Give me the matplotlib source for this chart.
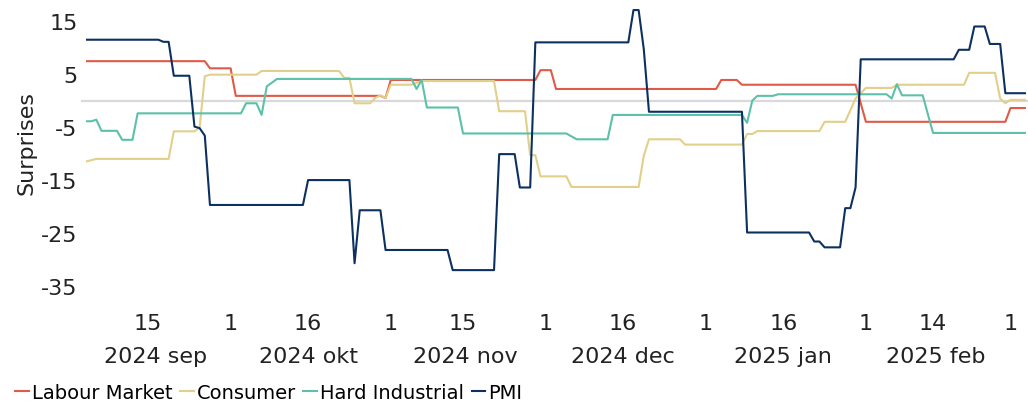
import matplotlib
matplotlib.use("Agg")
import matplotlib.pyplot as plt
import pandas as pd

plt.rcParams['font.family'] = ['DejaVu Sans']

# series vertices (date, surprise index)
labour_dates = ["2024-09-03", "2024-09-26", "2024-09-27", "2024-10-01", "2024-10-02", "2024-10-30",
                "2024-10-31", "2024-11-01", "2024-11-29", "2024-11-30", "2024-12-02", "2024-12-03",
                "2025-01-03", "2025-01-04", "2025-01-07", "2025-01-08", "2025-01-30", "2025-02-01",
                "2025-02-28", "2025-03-01", "2025-03-04"]
labour_vals = [7.45, 7.45, 6.1, 6.1, 0.9, 0.9, 0.5, 3.9, 3.9, 5.75, 5.75, 2.2,
               2.2, 3.9, 3.9, 3.0, 3.0, -4.0, -4.0, -1.4, -1.4]

consumer_dates = ["2024-09-03", "2024-09-05", "2024-09-19", "2024-09-20", "2024-09-24", "2024-09-25",
                  "2024-09-26", "2024-09-27", "2024-10-06", "2024-10-07", "2024-10-22", "2024-10-23",
                  "2024-10-24", "2024-10-25", "2024-10-28", "2024-10-29", "2024-10-30", "2024-10-31",
                  "2024-11-01", "2024-11-05", "2024-11-07", "2024-11-21", "2024-11-22", "2024-11-27",
                  "2024-11-28", "2024-11-29", "2024-11-30", "2024-12-05", "2024-12-06", "2024-12-19",
                  "2024-12-20", "2024-12-21", "2024-12-27", "2024-12-28", "2025-01-08", "2025-01-09",
                  "2025-01-10", "2025-01-11", "2025-01-23", "2025-01-24", "2025-01-28", "2025-01-30",
                  "2025-02-01", "2025-02-06", "2025-02-07", "2025-02-20", "2025-02-21", "2025-02-26",
                  "2025-02-27", "2025-02-28", "2025-03-01", "2025-03-04"]
consumer_vals = [-11.5, -11.0, -11.0, -5.8, -5.8, -5.1, 4.6, 4.9, 4.9, 5.6, 5.6, 4.3,
                 4.3, -0.5, -0.5, 0.5, 1.0, 0.5, 3.0, 3.0, 3.7, 3.7, -2.0, -2.0,
                 -10.3, -10.3, -14.3, -14.3, -16.3, -16.3, -10.4, -7.3, -7.3, -8.3, -8.3, -6.3,
                 -6.3, -5.75, -5.75, -4.0, -4.0, 0.4, 2.4, 2.4, 3.0, 3.0, 5.25, 5.25,
                 0.4, -0.5, 0.15, 0.15]

hard_dates = ["2024-09-03", "2024-09-04", "2024-09-05", "2024-09-06", "2024-09-09", "2024-09-10",
              "2024-09-12", "2024-09-13", "2024-10-03", "2024-10-04", "2024-10-06", "2024-10-07",
              "2024-10-08", "2024-10-10", "2024-11-05", "2024-11-06", "2024-11-07", "2024-11-08",
              "2024-11-14", "2024-11-15", "2024-12-05", "2024-12-07", "2024-12-13", "2024-12-14",
              "2025-01-08", "2025-01-09", "2025-01-10", "2025-01-11", "2025-01-14", "2025-01-15",
              "2025-02-05", "2025-02-06", "2025-02-07", "2025-02-08", "2025-02-12", "2025-02-14",
              "2025-03-04"]
hard_vals = [-3.9, -3.9, -3.6, -5.7, -5.7, -7.4, -7.4, -2.4, -2.4, -0.5, -0.5, -2.7,
             2.7, 4.1, 4.1, 2.2, 3.9, -1.3, -1.3, -6.2, -6.2, -7.3, -7.3, -2.7,
             -2.7, -4.2, 0.0, 0.9, 0.9, 1.2, 1.2, 0.4, 3.1, 1.0, 1.0, -6.1, -6.1]

pmi_dates = ["2024-09-03", "2024-09-17", "2024-09-18", "2024-09-19", "2024-09-20", "2024-09-23",
             "2024-09-24", "2024-09-25", "2024-09-26", "2024-09-27", "2024-10-15", "2024-10-16",
             "2024-10-24", "2024-10-25", "2024-10-26", "2024-10-30", "2024-10-31", "2024-11-12",
             "2024-11-13", "2024-11-21", "2024-11-22", "2024-11-25", "2024-11-26", "2024-11-28",
             "2024-11-29", "2024-12-17", "2024-12-18", "2024-12-19", "2024-12-20", "2024-12-21",
             "2025-01-08", "2025-01-09", "2025-01-21", "2025-01-22", "2025-01-23", "2025-01-24",
             "2025-01-27", "2025-01-28", "2025-01-29", "2025-01-30", "2025-01-31", "2025-02-18",
             "2025-02-19", "2025-02-21", "2025-02-22", "2025-02-24", "2025-02-25", "2025-02-27",
             "2025-02-28", "2025-03-04"]
pmi_vals = [11.5, 11.5, 11.1, 11.1, 4.7, 4.7, -4.9, -5.2, -6.6, -19.7, -19.7, -15.0,
            -15.0, -30.7, -20.7, -20.7, -28.2, -28.2, -32.0, -32.0, -10.1, -10.1, -16.4, -16.4,
            11.0, 11.0, 17.1, 17.1, 9.7, -2.1, -2.1, -24.9, -24.9, -26.6, -26.6, -27.7,
            -27.7, -20.3, -20.3, -16.4, 7.8, 7.8, 9.6, 9.6, 14.0, 14.0, 10.7, 10.7,
            1.4, 1.4]

series_names = ["Labour Market", "Consumer", "Hard Industrial", "PMI"]
colors = ["#E05A47", "#E2CF8A", "#5CC0AA", "#0C3161"]

day_ticks = ["2024-09-15", "2024-10-01", "2024-10-16", "2024-11-01", "2024-11-15", "2024-12-01",
             "2024-12-16", "2025-01-01", "2025-01-16", "2025-02-01", "2025-02-14", "2025-03-01"]
month_labels = ["2024 sep", "2024 okt", "2024 nov", "2024 dec", "2025 jan", "2025 feb"]
month_centers = ["2024-09-16 12:00", "2024-10-16", "2024-11-15 12:00", "2024-12-16",
                 "2025-01-16", "2025-02-14 12:00"]
y_ticks = [15, 5, -5, -15, -25, -35]

W, H = 1028, 406
fig = plt.figure(figsize=(W / 100, H / 100), dpi=100)
# axes placed in pixels: left 86, right 1026, top 1, bottom 287
ax = fig.add_axes([86 / W, 1 - 287 / H, 940 / W, 286 / H])

ax.axhline(0, color="#D9D9D9", lw=1.6, zorder=1, xmin=-0.004, xmax=1.003, clip_on=False)

all_dates = [labour_dates, consumer_dates, hard_dates, pmi_dates]
all_vals = [labour_vals, consumer_vals, hard_vals, pmi_vals]
for d, v, name, c in zip(all_dates, all_vals, series_names, colors):
    ax.plot(pd.to_datetime(d), v, color=c, lw=1.5, label=name, zorder=3)

ax.set_xlim(pd.Timestamp("2024-09-03"), pd.Timestamp("2025-03-04"))
ax.set_ylim(-35, 19)
ax.set_yticks(y_ticks)
ax.set_yticklabels([str(t) for t in y_ticks])
ax.tick_params(axis="y", length=0, pad=6, labelsize=16, colors="#222222")
for s in ax.spines.values():
    s.set_visible(False)

ax.set_xticks(pd.to_datetime(day_ticks))
ax.set_xticklabels([])
ax.tick_params(axis="x", length=0)
trans = ax.get_xaxis_transform()
for t in day_ticks:
    ts = pd.Timestamp(t)
    ax.text(ts, (287 - 330) / 286, str(ts.day), transform=trans, ha="center", va="baseline",
            fontsize=16, color="#222222")
for lab, t in zip(month_labels, month_centers):
    ax.text(pd.Timestamp(t), (287 - 363) / 286, lab, transform=trans, ha="center", va="baseline",
            fontsize=16, color="#222222")

fig.text(33 / W, 1 - 143 / H, "Surprises", rotation=90, rotation_mode="anchor",
         ha="center", va="baseline", fontsize=16, color="#222222")

fig.legend(loc="lower left", bbox_to_anchor=(15 / W, 3 / H), ncol=4, frameon=False,
           fontsize=14, handlelength=0.7, handletextpad=0.15, columnspacing=0.4,
           borderpad=0, borderaxespad=0)

fig.savefig("out.png", dpi=100)
